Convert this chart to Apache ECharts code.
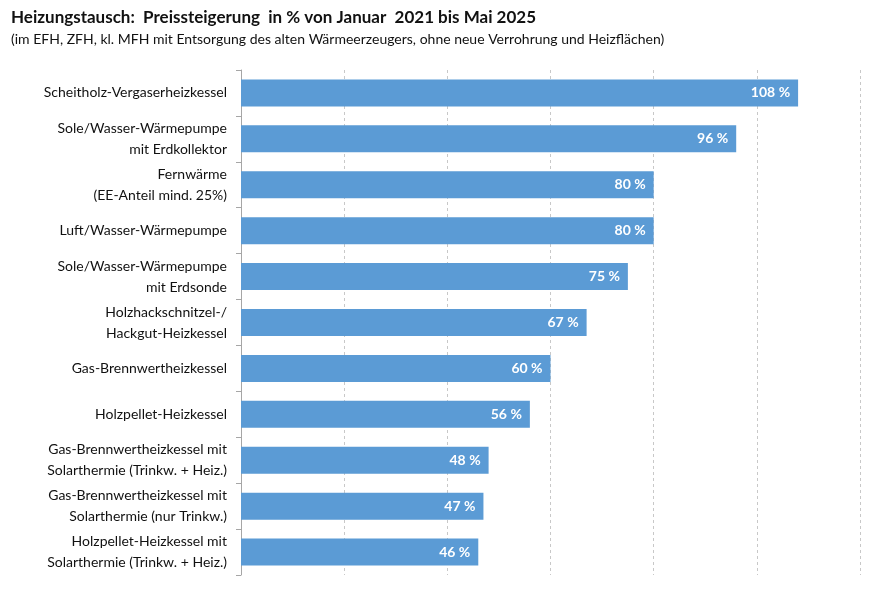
<!DOCTYPE html>
<html><head><meta charset="utf-8">
<script src="https://cdn.jsdelivr.net/npm/echarts@6/dist/echarts.min.js"></script>
<style>html,body{margin:0;padding:0;background:#fff}#c{width:872px;height:590px}</style>
</head><body><div id="c"></div>
<script>
const categories = [
  "Scheitholz-Vergaserheizkessel",
  "Sole/Wasser-Wärmepumpe\nmit Erdkollektor",
  "Fernwärme\n(EE-Anteil mind. 25%)",
  "Luft/Wasser-Wärmepumpe",
  "Sole/Wasser-Wärmepumpe\nmit Erdsonde",
  "Holzhackschnitzel-/\nHackgut-Heizkessel",
  "Gas-Brennwertheizkessel",
  "Holzpellet-Heizkessel",
  "Gas-Brennwertheizkessel mit\nSolarthermie (Trinkw. + Heiz.)",
  "Gas-Brennwertheizkessel mit\nSolarthermie (nur Trinkw.)",
  "Holzpellet-Heizkessel mit\nSolarthermie (Trinkw. + Heiz.)"
];
const values = [108, 96, 80, 80, 75, 67, 60, 56, 48, 47, 46];
const title = "Heizungstausch:  Preissteigerung  in % von Januar  2021 bis Mai 2025";
const subtitle = "(im EFH, ZFH, kl. MFH mit Entsorgung des alten Wärmeerzeugers, ohne neue Verrohrung und Heizflächen)";
const F = "Lato, 'Open Sans', sans-serif";
const chart = echarts.init(document.getElementById('c'));
chart.setOption({
  animation: false,
  title: [
    {text: title, left: 6, top: 4, textStyle: {fontFamily: F, fontSize: 17, fontWeight: 'bold', color: '#111'}},
    {text: subtitle, left: 6, top: 27, textStyle: {fontFamily: F, fontSize: 14, fontWeight: 'normal', color: '#111'}}
  ],
  grid: {left: 241, right: 12, top: 70, bottom: 15, containLabel: false},
  xAxis: {type: 'value', min: 0, max: 120, interval: 20,
    axisLabel: {show: false}, axisLine: {show: false}, axisTick: {show: false},
    splitLine: {show: true, lineStyle: {type: [3, 3], color: '#c8c8c8'}}},
  yAxis: {type: 'category', inverse: true, data: categories,
    axisLine: {show: true, lineStyle: {color: '#a6a6a6'}},
    axisTick: {show: true, length: 5, lineStyle: {color: '#a6a6a6'}},
    axisLabel: {fontFamily: F, fontSize: 14, color: '#111', margin: 14, lineHeight: 21, align: 'right'}},
  series: [{type: 'bar', data: values, barWidth: 27,
    itemStyle: {color: '#5b9bd5'},
    label: {show: true, position: 'insideRight', formatter: p => p.value + ' %',
      color: '#fff', fontWeight: 'bold', fontFamily: F, fontSize: 14, distance: 8}}]
});
</script></body></html>
